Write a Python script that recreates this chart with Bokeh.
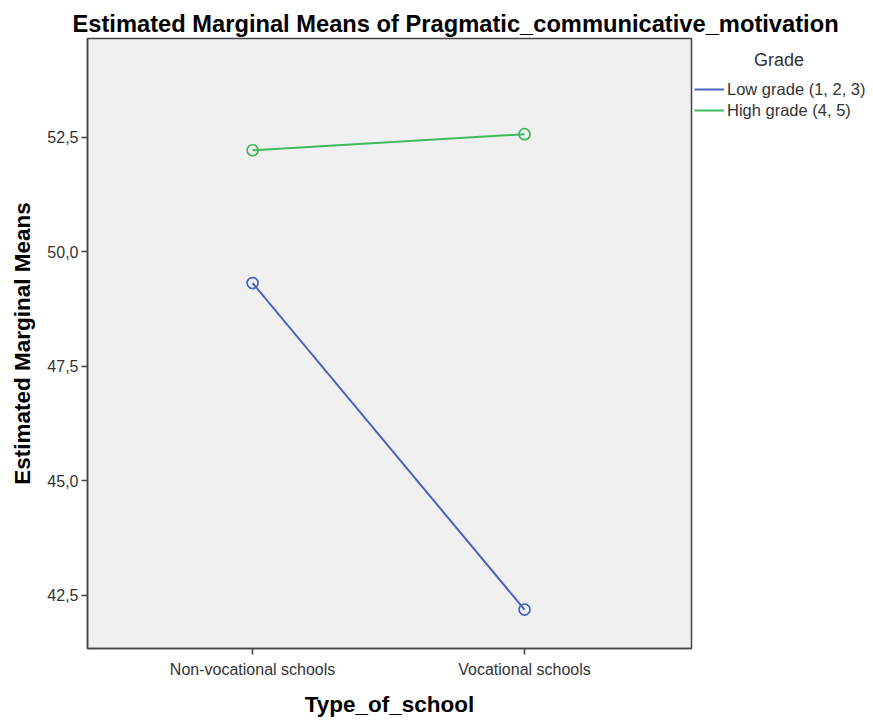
from bokeh.plotting import figure
from bokeh.models import (Range1d, FixedTicker, CustomJSTickFormatter, Legend, LegendItem)
from bokeh.embed import file_html
from bokeh.resources import INLINE

schools = ["Non-vocational schools", "Vocational schools"]
school_pos = [0, 1]
low_grade = [49.32, 42.19]
high_grade = [52.22, 52.57]
series_names = ["Low grade (1, 2, 3)", "High grade (4, 5)"]
y_ticks = [42.5, 45.0, 47.5, 50.0, 52.5]

BLUE = "#4A62BE"
GREEN = "#3DBA5A"
FONT = "Liberation Sans"

p = figure(frame_width=604, frame_height=610, output_backend="svg", toolbar_location=None,
           x_range=Range1d(-0.607, 1.614), y_range=Range1d(41.34, 54.66),
           min_border_left=87, min_border_top=38, min_border_right=178, min_border_bottom=70)
p.background_fill_color = "#F0F0F0"
p.border_fill_color = "white"
p.outline_line_color = "#444444"
p.outline_line_width = 1.5
p.xgrid.visible = False
p.ygrid.visible = False

p.title.text = "Estimated Marginal Means of Pragmatic_communicative_motivation"
p.title.text_font = FONT
p.title.text_font_size = "23.7px"
p.title.text_font_style = "bold"
p.title.text_color = "black"
p.title.align = "left"
p.title.offset = -15
p.title.vertical_align = "top"
p.title.standoff = 0
p.title.text_line_height = 0.9

r_low = p.line(school_pos, low_grade, line_color=BLUE, line_width=2)
p.scatter(school_pos, low_grade, marker="circle", size=11, fill_color=None, line_color=BLUE, line_width=1.7)
r_high = p.line(school_pos, high_grade, line_color=GREEN, line_width=2)
p.scatter(school_pos, high_grade, marker="circle", size=11, fill_color=None, line_color=GREEN, line_width=1.7)

xa = p.xaxis[0]
xa.ticker = FixedTicker(ticks=school_pos)
xa.major_label_overrides = {i: s for i, s in zip(school_pos, schools)}
xa.minor_tick_line_color = None
xa.major_tick_in = 0
xa.major_tick_out = 6
xa.major_label_standoff = 6
xa.axis_label = "Type_of_school"
xa.axis_label_standoff = 11
ya = p.yaxis[0]
ya.ticker = FixedTicker(ticks=y_ticks)
ya.formatter = CustomJSTickFormatter(code="return tick.toFixed(1).replace('.', ',');")
ya.minor_tick_line_color = None
ya.major_tick_in = 0
ya.major_tick_out = 6
ya.major_label_standoff = 3
ya.axis_label = "Estimated Marginal Means"
ya.axis_label_standoff = 9
for ax in (xa, ya):
    ax.axis_line_color = "#444444"
    ax.axis_line_width = 1.5
    ax.major_tick_line_color = "#444444"
    ax.major_tick_line_width = 1.5
    ax.major_label_text_font = FONT
    ax.major_label_text_font_size = "16px"
    ax.major_label_text_color = "#333333"
    ax.axis_label_text_font = FONT
    ax.axis_label_text_font_size = "22.5px"
    ax.axis_label_text_font_style = "bold"
    ax.axis_label_text_color = "black"

legend = Legend(items=[LegendItem(label=series_names[0], renderers=[r_low]),
                       LegendItem(label=series_names[1], renderers=[r_high])],
                location=(3, 528), title="\u00a0" * 12 + "Grade",
                title_text_font=FONT, title_text_font_size="18px", title_text_font_style="normal",
                title_text_color="#333333", title_standoff=8,
                label_text_font=FONT, label_text_font_size="16.5px", label_text_color="#333333",
                glyph_width=30, glyph_height=20, label_height=20, label_standoff=3,
                spacing=1, padding=0, margin=0, border_line_color=None, background_fill_alpha=0)
p.add_layout(legend, "right")

open("out.html", "w").write(file_html(p, INLINE))
